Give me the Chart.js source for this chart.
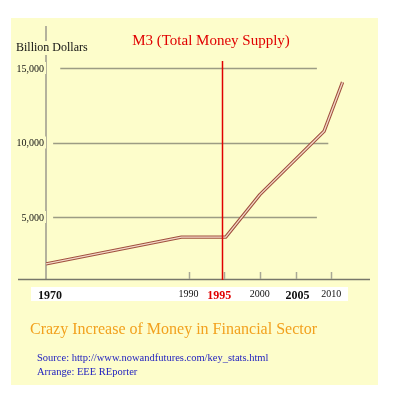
<!DOCTYPE html>
<html>
<head>
<meta charset="utf-8">
<script src="https://cdn.jsdelivr.net/npm/chart.js@4"></script>
<style>
  html, body { margin: 0; padding: 0; background: #fff; }
  #wrap { width: 393px; height: 400px; position: relative; }
</style>
</head>
<body>
<div id="wrap"><canvas id="m3"></canvas></div>
<script>
// M3 money supply, billion dollars
const years = [1970, 1989, 1995.2, 2000, 2009, 2011.6];
const m3 = [1850, 3650, 3650, 6500, 10750, 14050];

// y gridlines / tick labels
const yTicks = [5000, 10000, 15000];
const yTickLabels = ["5,000", "10,000", "15,000"];
// how far each gridline runs, in years
const gridFrom = [1971, 1971, 1972];
const gridTo = [2008, 2009.6, 2008];

// x ticks and labels
const xTickYears = [1990, 1995, 2000, 2005, 2010];
const xLabels = ["1970", "1990", "1995", "2000", "2005", "2010"];

const markYear = 1994.7; // red marker line

const serif = "'Liberation Serif', 'DejaVu Serif', serif";

const xy = years.map((y, i) => ({ x: y, y: m3[i] }));

// background, grid, axes and texts
const decor = {
  id: "decor",
  beforeDraw(chart) {
    const ctx = chart.ctx;
    ctx.save();
    ctx.fillStyle = "#ffffff";
    ctx.fillRect(0, 0, chart.width, chart.height);
    ctx.fillStyle = "#fdfdcb";
    ctx.fillRect(11, 18, 367, 367);
    ctx.restore();
  },
  beforeDatasetsDraw(chart) {
    const ctx = chart.ctx;
    const x = chart.scales.x;
    const y = chart.scales.y;
    const area = chart.chartArea;
    ctx.save();

    // y axis line
    ctx.strokeStyle = "#b4b29c";
    ctx.lineWidth = 2;
    ctx.beginPath();
    ctx.moveTo(area.left, area.top);
    ctx.lineTo(area.left, area.bottom);
    ctx.stroke();

    // gridlines
    ctx.strokeStyle = "#9c9c84";
    ctx.lineWidth = 1.3;
    yTicks.forEach((v, i) => {
      const py = Math.round(y.getPixelForValue(v)) + 0.5;
      ctx.beginPath();
      ctx.moveTo(x.getPixelForValue(gridFrom[i]), py);
      ctx.lineTo(x.getPixelForValue(gridTo[i]), py);
      ctx.stroke();
    });

    // x axis line
    ctx.strokeStyle = "#77776a";
    ctx.lineWidth = 1.3;
    ctx.beginPath();
    ctx.moveTo(18, area.bottom + 0.5);
    ctx.lineTo(370, area.bottom + 0.5);
    ctx.stroke();

    // x tick marks
    ctx.strokeStyle = "#a8a896";
    ctx.lineWidth = 1.5;
    xTickYears.forEach(yr => {
      const px = Math.round(x.getPixelForValue(yr)) + 0.5;
      ctx.beginPath();
      ctx.moveTo(px, area.bottom - 7);
      ctx.lineTo(px, area.bottom);
      ctx.stroke();
    });

    // y tick labels with backdrop
    ctx.font = "10px " + serif;
    ctx.textAlign = "right";
    ctx.textBaseline = "middle";
    yTicks.forEach((v, i) => {
      const py = y.getPixelForValue(v);
      const w = ctx.measureText(yTickLabels[i]).width;
      ctx.fillStyle = "#fdfdcb";
      ctx.fillRect(44 - w - 1, py - 6, w + 3, 12);
      ctx.fillStyle = "#111";
      ctx.fillText(yTickLabels[i], 44, py + 1);
    });

    // unit label
    ctx.font = "12px " + serif;
    ctx.textAlign = "left";
    const uw = ctx.measureText("Billion Dollars").width;
    ctx.fillStyle = "#fdfdcb";
    ctx.fillRect(15, 41, uw + 2, 14);
    ctx.fillStyle = "#111";
    ctx.fillText("Billion Dollars", 16, 48);

    // x labels on white band
    ctx.fillStyle = "#ffffff";
    ctx.fillRect(31, 287, 317, 14);
    const shift = { "1970": 4, "1995": -5, "2005": 2 };
    xLabels.forEach(lab => {
      const big = lab === "1970" || lab === "1995" || lab === "2005";
      ctx.font = (big ? "bold 12px " : "10px ") + serif;
      ctx.fillStyle = lab === "1995" ? "#e00000" : "#111";
      ctx.textAlign = "center";
      const px = x.getPixelForValue(+lab) + (shift[lab] || 0);
      ctx.fillText(lab, px, big ? 295.5 : 294);
    });

    // title
    ctx.font = "15px " + serif;
    ctx.fillStyle = "#e00000";
    ctx.textAlign = "center";
    ctx.fillText("M3 (Total Money Supply)", 211, 41);

    // bottom texts
    ctx.textAlign = "left";
    ctx.font = "16px " + serif;
    ctx.fillStyle = "#f2a11e";
    ctx.fillText("Crazy Increase of Money in Financial Sector", 30, 330);
    ctx.font = "10.5px " + serif;
    ctx.fillStyle = "#2222c0";
    ctx.fillText("Source: http://www.nowandfutures.com/key_stats.html", 37, 358);
    ctx.fillText("Arrange: EEE REporter", 37, 372);

    ctx.restore();
  },
  afterDatasetsDraw(chart) {
    const ctx = chart.ctx;
    const x = chart.scales.x;
    const y = chart.scales.y;
    const px = Math.round(x.getPixelForValue(markYear)) + 0.5;
    ctx.save();
    ctx.strokeStyle = "#e00000";
    ctx.lineWidth = 1.5;
    ctx.beginPath();
    ctx.moveTo(px, y.getPixelForValue(15470));
    ctx.lineTo(px, chart.chartArea.bottom + 1);
    ctx.stroke();
    ctx.restore();
  }
};

new Chart(document.getElementById("m3"), {
  type: "line",
  data: {
    datasets: [
      {
        // light core, drawn on top (lower order = on top)
        label: "M3 inner",
        data: xy,
        borderColor: "#f3d8c8",
        borderWidth: 1.3,
        pointRadius: 0,
        tension: 0,
        order: 0
      },
      {
        label: "M3",
        data: xy,
        borderColor: "#a0503e",
        borderWidth: 3.4,
        pointRadius: 0,
        tension: 0,
        borderJoinStyle: "round",
        order: 1
      }
    ]
  },
  options: {
    animation: false,
    responsive: true,
    maintainAspectRatio: false,
    layout: { padding: { left: 46, top: 26, right: 26.2, bottom: 121 } },
    scales: {
      x: { type: "linear", min: 1970, max: 2015, display: false },
      y: { type: "linear", min: 839, max: 17819, display: false }
    },
    plugins: {
      legend: { display: false },
      title: { display: false },
      tooltip: { enabled: false }
    }
  },
  plugins: [decor]
});
</script>
</body>
</html>
